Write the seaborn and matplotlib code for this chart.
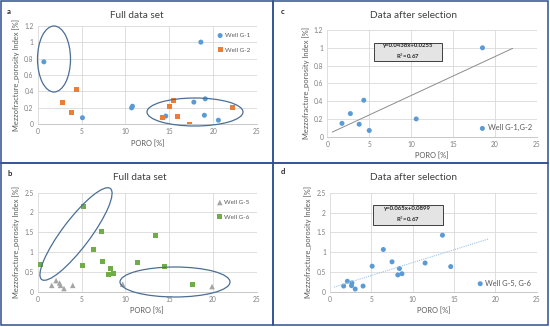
import numpy as np
import pandas as pd
import seaborn as sns
import matplotlib.pyplot as plt
from matplotlib.patches import Ellipse, Rectangle

# panel a - full data set, wells G-1 / G-2
g1_poro = [0.7, 5.1, 10.7, 10.8, 14.6, 17.8, 18.6, 19.1, 19.0, 20.6]
g1_idx = [0.76, 0.08, 0.20, 0.22, 0.10, 0.27, 1.00, 0.31, 0.11, 0.05]
g2_poro = [2.8, 4.4, 3.9, 14.2, 15.0, 15.5, 15.9, 17.3, 22.2]
g2_idx = [0.26, 0.42, 0.14, 0.08, 0.22, 0.29, 0.09, 0.0, 0.21]

# panel c - after selection
c_poro = [1.75, 2.75, 3.8, 4.35, 5.0, 10.6, 18.5]
c_idx = [0.15, 0.26, 0.14, 0.41, 0.07, 0.20, 1.0]
c_coef = [0.0438, 0.0255]
c_xrange = [0.6, 22.1]

# panel b - full data set, wells G-5 / G-6
g5_poro = [1.6, 2.1, 2.5, 2.6, 3.0, 4.0, 9.7, 19.9]
g5_idx = [0.16, 0.28, 0.22, 0.16, 0.08, 0.16, 0.19, 0.13]
g6_poro = [0.3, 5.1, 5.25, 6.4, 7.3, 7.4, 8.3, 8.1, 8.6, 11.4, 13.5, 14.5, 17.7]
g6_idx = [0.68, 0.66, 2.15, 1.07, 1.52, 0.77, 0.59, 0.44, 0.47, 0.74, 1.41, 0.64, 0.19]

# panel d - after selection
d_poro = [1.65, 2.1, 2.65, 2.6, 3.05, 4.0, 5.1, 6.45, 7.5, 8.4, 8.2, 8.7, 11.5, 13.6, 14.6]
d_idx = [0.15, 0.27, 0.23, 0.16, 0.075, 0.15, 0.65, 1.07, 0.76, 0.59, 0.43, 0.46, 0.73, 1.43, 0.64]
d_coef = [0.065, 0.0899]
d_xrange = [0.5, 19.2]

sns.set_style("white")
plt.rcParams['font.family'] = ['Lato', 'DejaVu Sans']

W, H = 550, 327
fig = plt.figure(figsize=(5.5, 3.27), dpi=100)

BLUE, ORANGE, GREY, GREEN = '#5b9bd5', '#ed7d31', '#a5a5a5', '#70ad47'
TXT = '#7f7f7f'
ELL = '#4a6f96'


def px_axes(x0, x1, ytop, ybot):
    return fig.add_axes([x0 / W, 1 - ybot / H, (x1 - x0) / W, (ybot - ytop) / H])


def style(ax, ymax, ystep):
    ax.set_xlim(0, 25)
    ax.set_ylim(0, ymax)
    ax.set_xticks(np.arange(0, 26, 5))
    yt = np.round(np.arange(0, ymax + 1e-9, ystep), 2)
    ax.set_yticks(yt)
    ax.set_yticklabels(['%g' % v for v in yt])
    ax.grid(color='#d9d9d9', lw=0.6)
    for s in ['top', 'right', 'left']:
        ax.spines[s].set_visible(False)
    ax.spines['bottom'].set_color('#bfbfbf')
    ax.spines['bottom'].set_linewidth(0.6)
    ax.tick_params(length=0, labelsize=4.8, colors=TXT, pad=3)
    ax.set_xlabel('PORO [%]', fontsize=5.4, color='#595959', labelpad=3)
    ax.set_ylabel('Mezzofracture_porosity Index [%]', fontsize=5.4, color='#595959', labelpad=3)


def eq_box(ax, cx, cy, w, h, txt):
    ax.add_patch(Rectangle((cx - w / 2 + 0.006, cy - h / 2 - 0.012), w, h, transform=ax.transAxes,
                           fc='#9a9a9a', ec='none', zorder=4))
    ax.add_patch(Rectangle((cx - w / 2, cy - h / 2), w, h, transform=ax.transAxes,
                           fc='#e4e4e4', ec='#3f3f3f', lw=0.7, zorder=5))
    ax.text(cx, cy, txt, transform=ax.transAxes, ha='center', va='center', fontsize=4.3,
            fontweight='bold', color='#262626', zorder=6, linespacing=1.5)


def ellipse(cx, cy, w, h, ang=0):
    fig.add_artist(Ellipse((cx / 100, (H - cy) / 100), w / 100, h / 100, angle=ang,
                           transform=fig.dpi_scale_trans, fill=False, ec=ELL, lw=0.9))


mk = dict(edgecolor='none', s=13)
leg = dict(frameon=False, handletextpad=0.0, labelcolor='#595959', handlelength=1.4)

# --- a
ax_a = px_axes(37.7, 257, 25.7, 124.3)
sns.scatterplot(x=g1_poro, y=g1_idx, color=BLUE, marker='o', label='Well G-1', ax=ax_a, **mk)
sns.scatterplot(x=g2_poro, y=g2_idx, color=ORANGE, marker='s', label='Well G-2', ax=ax_a, **mk)
style(ax_a, 1.2, 0.2)
ax_a.legend(loc='upper right', fontsize=4.6, labelspacing=1.4, borderaxespad=0.7, **leg)

# --- c
ax_c = px_axes(327.3, 537, 30, 136.7)
sns.scatterplot(x=c_poro, y=c_idx, color=BLUE, marker='o', label='Well G-1,G-2', ax=ax_c, **mk)
cx = np.array(c_xrange)
sns.lineplot(x=cx, y=np.polyval(c_coef, cx), color='#8c8c8c', lw=0.7, ax=ax_c)
style(ax_c, 1.2, 0.2)
ax_c.legend(loc='lower right', fontsize=5.4, borderaxespad=0.3, **leg)
eq_box(ax_c, 0.385, 0.794, 0.324, 0.169, 'y=0.0438x+0.0255\nR$^2$=0.67')

# --- b
ax_b = px_axes(37.7, 256.7, 192.7, 291.7)
sns.scatterplot(x=g5_poro, y=g5_idx, color=GREY, marker='^', label='Well G-5', ax=ax_b, edgecolor='none', s=16)
sns.scatterplot(x=g6_poro, y=g6_idx, color=GREEN, marker='s', label='Well G-6', ax=ax_b, **mk)
style(ax_b, 2.5, 0.5)
ax_b.legend(loc='upper right', fontsize=4.6, labelspacing=1.4, borderaxespad=0.7, **leg)

# --- d
ax_d = px_axes(330, 536.7, 192.7, 292)
sns.scatterplot(x=d_poro, y=d_idx, color=BLUE, marker='o', label='Well G-5, G-6', ax=ax_d, **mk)
dx = np.array(d_xrange)
sns.lineplot(x=dx, y=np.polyval(d_coef, dx), color='#9dc3e6', lw=0.8, ls=(0, (1, 1)), ax=ax_d)
style(ax_d, 2.5, 0.5)
ax_d.legend(loc='lower right', fontsize=5.4, borderaxespad=0.3, **leg)
eq_box(ax_d, 0.377, 0.775, 0.339, 0.2, 'y=0.065x+0.0899\nR$^2$=0.67')

# titles and panel letters
for x, y, t in [(137, 15, 'Full data set'), (413, 15, 'Data after selection'),
                (140, 177, 'Full data set'), (413, 177, 'Data after selection')]:
    fig.text(x / W, 1 - y / H, t, ha='center', va='center', fontsize=7.2, color='#404040')
for lt, x, y in [('a', 9, 11), ('c', 283, 11), ('b', 10, 173), ('d', 283, 172)]:
    fig.text(x / W, 1 - y / H, lt, ha='center', va='center', fontsize=5.5, fontweight='bold', color='#262626')

# highlight ellipses
ellipse(54, 59, 33, 66)
ellipse(195, 112, 96, 28)
ellipse(76, 234, 28, 114, ang=-37)
ellipse(175, 282, 110, 30)

# panel frames
for x0, y0, x1, y1 in [(1, 1, 273, 163), (273, 1, 548, 163), (1, 163, 273, 325), (273, 163, 548, 325)]:
    fig.add_artist(Rectangle((x0 / W, 1 - y1 / H), (x1 - x0) / W, (y1 - y0) / H, transform=fig.transFigure,
                             fill=False, ec='#2f4f8f', lw=1.1))

fig.savefig('out.png', dpi=100)
